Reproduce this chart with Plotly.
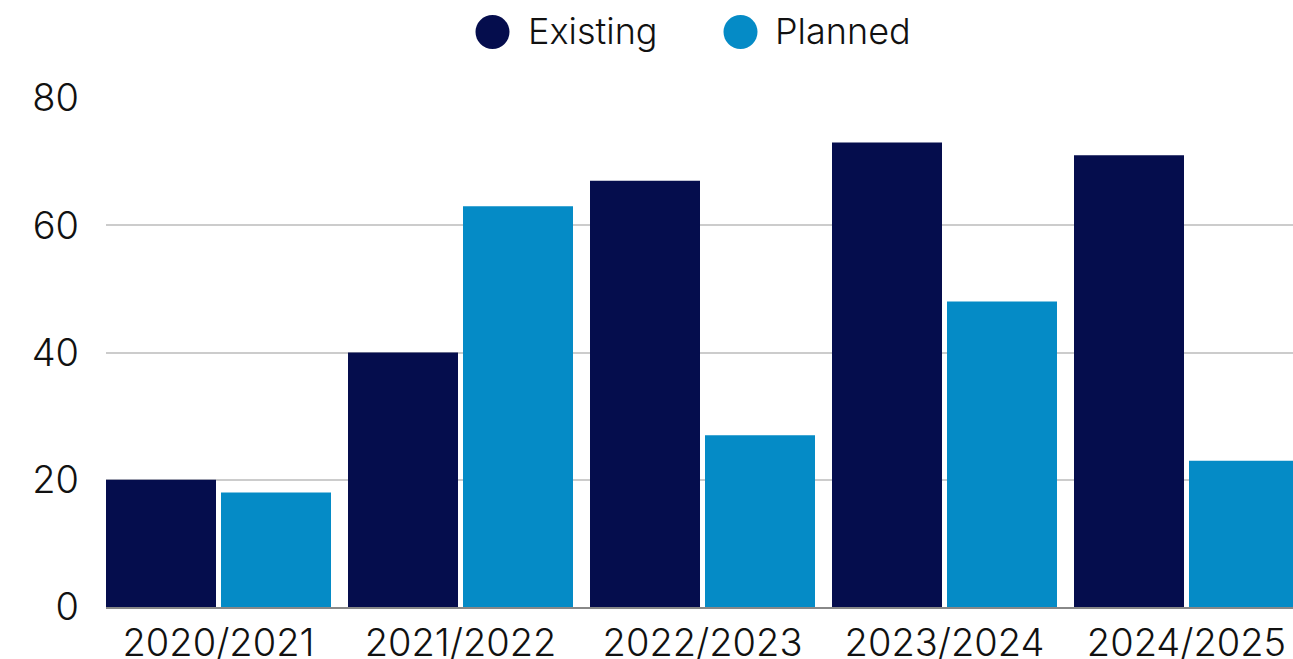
import plotly.graph_objects as go

# Seasons and counts per status
seasons = ["2020/2021", "2021/2022", "2022/2023", "2023/2024", "2024/2025"]
existing = [20, 40, 67, 73, 71]
planned = [18, 63, 27, 48, 23]

NAVY = "#050d4d"
BLUE = "#058bc6"
TEXT = "#111111"
FONT = "Inter"
WEIGHT = 300

W, H = 1293, 659
L, R, T, B = 106, 0, 98, 52

fig = go.Figure()
fig.add_trace(go.Bar(x=seasons, y=existing, name="Existing", marker_color=NAVY,
                     marker_line_width=0, showlegend=False))
fig.add_trace(go.Bar(x=seasons, y=planned, name="Planned", marker_color=BLUE,
                     marker_line_width=0, showlegend=False))

pw = W - L - R
ph = H - T - B


def px_x(p):
    return (p - L) / pw


def px_y(p):
    return (H - B - p) / ph


# Legend built from round swatches and labels above the plot
shapes = []
annotations = []
for cx, label, color, tx in [(492.5, "Existing", NAVY, 526), (740.5, "Planned", BLUE, 773)]:
    shapes.append(dict(type="circle", xref="paper", yref="paper",
                       xsizemode="pixel", ysizemode="pixel",
                       xanchor=px_x(cx), yanchor=px_y(32),
                       x0=-17, x1=17, y0=-17, y1=17,
                       fillcolor=color, line_width=0))
    annotations.append(dict(text=label, xref="paper", yref="paper",
                            x=px_x(tx), y=px_y(31), xanchor="left", yanchor="middle",
                            showarrow=False,
                            font=dict(family=FONT, size=36, color=TEXT, weight=WEIGHT)))

cat = 242.0
x_start = -0.5 + 8.5 / cat
x_end = x_start + pw / cat

fig.update_layout(
    width=W, height=H,
    margin=dict(l=L, r=R, t=T, b=B, pad=0),
    paper_bgcolor="white", plot_bgcolor="white",
    barmode="group", bargap=12 / 242, bargroupgap=5 / 115,
    font=dict(family=FONT, size=36, color=TEXT, weight=WEIGHT),
    shapes=shapes, annotations=annotations,
    showlegend=False,
    xaxis=dict(range=[x_start, x_end], showgrid=False, showline=True,
               linecolor="#888888", linewidth=1.5, ticks="", automargin=False,
               tickfont=dict(family=FONT, size=38, color=TEXT, weight=WEIGHT),
               ticklabelstandoff=2),
    yaxis=dict(range=[0, 80], tickvals=[0, 20, 40, 60, 80], showgrid=True,
               gridcolor="#cccccc", gridwidth=1.5, zeroline=False,
               showline=False, ticks="", automargin=False,
               tickfont=dict(family=FONT, size=38, color=TEXT, weight=WEIGHT),
               ticklabelstandoff=26),
)

fig.write_html("out.html")
